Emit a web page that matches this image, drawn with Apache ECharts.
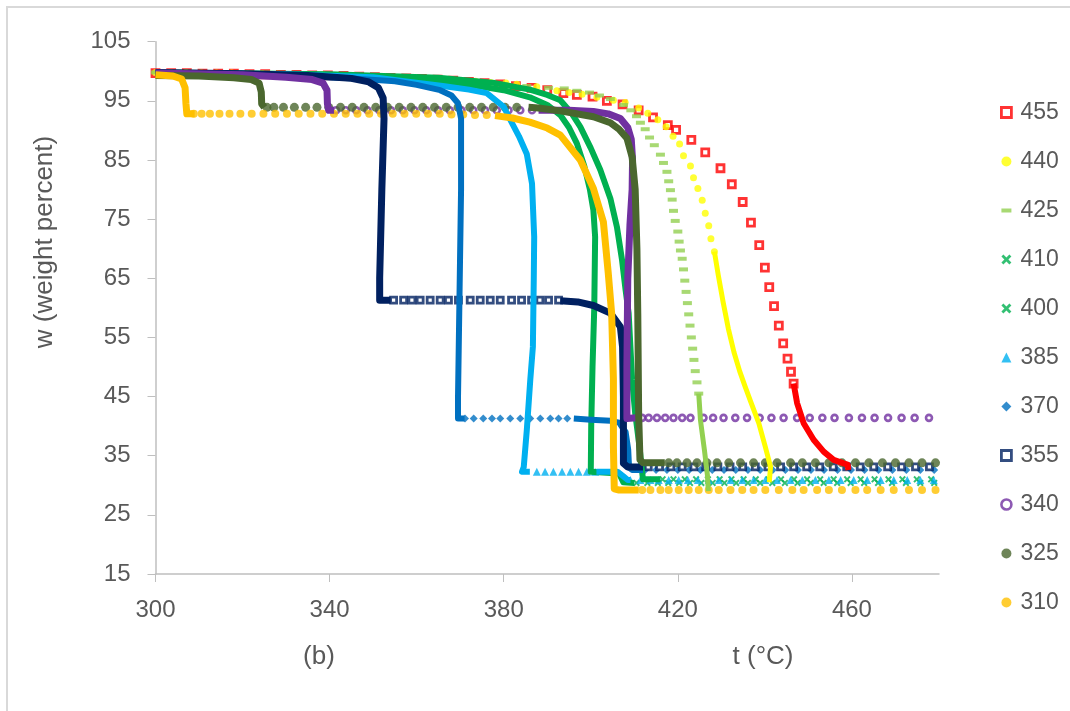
<!DOCTYPE html>
<html><head><meta charset="utf-8">
<script src="https://cdn.jsdelivr.net/npm/echarts@6/dist/echarts.min.js"></script>
<style>html,body{margin:0;padding:0;background:#fff}#c{width:1070px;height:711px}</style>
</head><body><div id="c"></div>
<script>
// ---------- data ----------
const seriesNames = ['455','440','425','410','400','385','370','355','340','325','310'];
const xTicks = [300,340,380,420,460];
const yTicks = [15,25,35,45,55,65,75,85,95,105];

// 455
const m455 = [[300,99.7],[303.6,99.7],[307.2,99.7],[310.8,99.6],[314.4,99.6],[318,99.6],[321.6,99.5],[325.2,99.5],[328.8,99.4],[332.4,99.4],[336,99.3],[339.6,99.3],[343.2,99.2],[346.8,99.1],[350.4,99.0],[354,98.9],[357.6,98.8],[361.2,98.7],[364.8,98.6],[368.4,98.4],[372,98.2],[375.6,98.0],[379.2,97.8],[382.8,97.5],[386.4,97.2],[390,96.8],[393.7,96.3],[396.8,96.0],[400.4,95.7],[403.7,95.0],[407.3,94.4],[411.0,93.4],[414.3,92.2],[417.7,90.9],[419.6,90.1],[423.1,88.4],[426.3,86.3],[429.8,83.6],[432.4,80.9],[434.9,77.9],[436.8,74.4],[438.7,70.6],[440.0,66.8],[441.0,63.5],[442.1,60.3],[443.2,57.0],[444.2,54.0],[445.2,51.4],[446.0,49.2],[446.6,47.2]];
const l455 = [[446.6,47.2],[447.4,43.9],[448.9,40.5],[451.2,37.7],[453.5,35.7],[455.8,34.3],[458.1,33.7],[459.0,33.5],[459.2,32.6]];
// 440
const m440 = [[300,99.8],[303.5,99.8],[307,99.8],[310.5,99.7],[314,99.7],[317.5,99.7],[321,99.6],[324.5,99.6],[328,99.5],[331.5,99.5],[335,99.4],[338.5,99.4],[342,99.3],[345.5,99.2],[349,99.1],[352.5,99.0],[356,98.9],[359.5,98.8],[363,98.7],[366.5,98.6],[370,98.4],[373.5,98.3],[377,98.1],[380.5,98.0],[383.0,97.8],[387.6,97.4],[392.2,96.7],[395.0,96.4],[398.0,96.1],[401.4,95.6],[405.2,95.1],[407.9,94.7],[411.0,93.8],[413.1,92.9],[415.4,91.8],[417.3,90.6],[418.9,89.0],[420.4,87.7],[421.3,85.7],[422.9,84.0],[423.6,82.0],[424.6,80.2],[425.6,78.2],[426.3,76.0],[427.1,73.9],[427.6,71.7],[428.4,69.5]];
const l440 = [[428.4,69.5],[429.3,65.5],[430.4,61.0],[431.6,56.5],[432.9,52.5],[434.2,49.3],[435.4,46.8],[436.8,44.0],[438.6,40.5],[440.1,36.5],[441.3,33.1],[441.0,30.5]];
// 425
const m425 = [[300,99.8],[304,99.8],[308,99.8],[312,99.7],[316,99.7],[320,99.6],[324,99.6],[328,99.5],[332,99.5],[336,99.4],[340,99.3],[344,99.2],[348,99.1],[352,99.0],[356,98.9],[360,98.7],[364,98.6],[368,98.4],[372,98.2],[376,98.0],[380,97.8],[385.3,97.5],[390.3,97.2],[393.9,97.1],[396.8,96.7],[399.7,96.4],[402.0,95.9],[404.5,95.3],[407.5,94.3],[409.2,93.4],[410.5,92.4],[411.4,91.3],[412.5,90.2],[413.5,88.8],[414.6,87.5],[416.0,85.9],[416.7,84.5],[417.5,83.0],[417.9,81.4],[418.3,79.9],[418.7,78.3],[419.0,76.4],[419.4,74.7],[420.0,72.9],[420.3,71.2],[420.6,69.7],[421.0,68.3],[421.3,66.5],[421.6,64.6],[421.9,62.7],[422.2,60.8],[422.5,58.9],[422.8,57.0],[423.1,55.0],[423.4,53.1],[423.7,51.2],[424.0,49.3],[424.4,47.4],[424.8,45.5]];
const l425 = [[424.8,45.5],[425.2,41.0],[426.1,36.0],[426.8,31.7],[427.0,29.0]];
// 410
const l410 = [[300,99.8],[340,99.5],[365,98.9],[378,98.0],[386,96.9],[390,96.0],[393,95.1],[395.5,93.0],[397.6,90.6],[400,87.0],[402.2,83.3],[404.5,78.5],[406,73.7],[407.2,68.0],[408,63.0],[408.7,59.1],[409.5,47.8],[410.2,42.2],[411.2,36.5],[411.6,33.5],[412,31.0],[416,31.0]];
const m410 = [[416.5,31.0],[419.0,31.0],[421.6,31.0],[424.2,31.0],[426.9,31.0],[429.6,31.0],[432.3,31.0],[435.1,31.0],[437.9,31.0],[440.8,31.0],[443.7,31.0],[446.7,31.0],[449.7,31.0],[452.7,31.0],[455.8,31.0],[458.9,31.0],[462.0,31.0],[465.2,31.0],[468.4,31.0],[471.6,31.0],[474.9,31.0],[478.2,31.0]];
// 400
const l400 = [[300,99.7],[330,99.4],[355,98.9],[370,98.0],[380,96.8],[386,95.6],[390,94.3],[393,92.6],[395,90.5],[396.8,87.8],[398.5,84.0],[399.8,80.0],[400.6,76.5],[401,72.0],[400.8,60.0],[400.4,50.0],[400.1,40.0],[400,32.3],[406.5,32.0],[407.5,30.5],[410,30.4]];
const m400 = [[410.5,30.4],[413.0,30.4],[415.4,30.4],[417.8,30.4],[420.3,30.4],[422.8,30.4],[425.4,30.4],[428.0,30.4],[430.7,30.4],[433.4,30.4],[436.1,30.4],[438.9,30.4],[441.7,30.4],[444.6,30.4],[447.5,30.4],[450.5,30.4],[453.5,30.4],[456.6,30.4],[459.7,30.4],[462.8,30.4],[466.0,30.4],[469.2,30.4],[472.4,30.4],[475.7,30.4],[478.9,30.4]];
// 385
const l385a = [[300,99.7],[330,99.5],[350,99.0],[358.5,98.2],[366,97.5],[372,96.9],[376.1,96.3],[380.0,94.0],[381.5,91.8],[383.5,89.0],[385.3,86.0],[386.5,81.0],[387,72.0],[386.9,64.7],[386.7,53.4],[386.1,47.8],[385.3,39.3],[384.6,33.1],[384.2,32.3],[386,32.3]];
const l385b = [[401.3,32.3],[406.1,32.3],[407.5,31.5],[408.5,30.9],[409.1,30.9]];
const m385 = [[387.6,32.3],[389.5,32.3],[391.4,32.3],[393.4,32.3],[395.3,32.3],[397.2,32.3],[399.1,32.3],[401.0,32.3],[409.1,30.9],[411.4,30.9],[413.7,30.9],[415.6,30.9],[417.9,30.9],[420.2,30.9],[422.3,30.9],[424.6,30.9],[427.1,30.9],[429.4,30.9],[432.1,30.9],[434.8,30.9],[437.4,30.9],[440.1,30.9],[442.8,30.9],[445.9,30.9],[448.6,30.9],[451.6,30.9],[454.7,30.9],[457.4,30.9],[460.4,30.9],[463.5,30.9],[466.6,30.9],[469.6,30.9],[472.7,30.9],[475.7,30.9],[478.8,30.9]];
// 370
const l370a = [[300,99.6],[330,99.3],[345,98.8],[355,98.3],[360,97.7],[365.4,96.8],[368,95.9],[369.5,94.6],[370.2,92.0],[370.2,80.0],[369.8,60.0],[369.5,45.0],[369.5,41.3],[371,41.3]];
const l370b = [[396.1,41.3],[400,41.1],[404.5,40.9],[406.5,40.6],[408,39.0],[408.6,36.0],[408.8,33.0],[409.5,32.6],[412,32.6]];
const m370 = [[371.1,41.3],[373.1,41.3],[375.3,41.3],[377.3,41.3],[379.2,41.3],[381.5,41.3],[383.8,41.3],[386.1,41.3],[388.4,41.3],[390.7,41.3],[392.6,41.3],[394.6,41.3],[412.5,32.6],[415.0,32.6],[417.5,32.6],[420.0,32.6],[422.6,32.6],[425.2,32.6],[427.9,32.6],[430.6,32.6],[433.3,32.6],[436.1,32.6],[438.9,32.6],[441.8,32.6],[444.7,32.6],[447.6,32.6],[450.6,32.6],[453.6,32.6],[456.7,32.6],[459.8,32.6],[462.9,32.6],[466.1,32.6],[469.3,32.6],[472.5,32.6],[475.7,32.6],[478.9,32.6]];
// 355
const l355a = [[300,99.8],[320,99.6],[335,99.3],[345,98.8],[349,98.2],[351.2,97.2],[352.3,95.5],[352.5,92.0],[352,80.0],[351.5,65.0],[351.5,61.3],[354,61.3]];
const l355b = [[393,61.2],[397,61.0],[400.6,60.4],[404.5,59.1],[406.8,56.8],[407.3,53.4],[407.5,45.0],[407.5,33.7],[408.5,33.1],[412,33.1]];
const m355 = [[354.7,61.3],[357.0,61.3],[358.9,61.3],[360.8,61.3],[363.1,61.3],[365.4,61.3],[367.3,61.3],[369.6,61.3],[372.3,61.3],[374.6,61.3],[376.9,61.3],[379.2,61.3],[381.8,61.3],[384.1,61.3],[386.4,61.3],[388.3,61.3],[390.3,61.3],[392.6,61.3],[413.2,33.1],[415.8,33.1],[418.4,33.1],[421.0,33.1],[423.7,33.1],[426.4,33.1],[429.2,33.1],[432.0,33.1],[434.9,33.1],[437.8,33.1],[440.7,33.1],[443.6,33.1],[446.6,33.1],[449.6,33.1],[452.6,33.1],[455.7,33.1],[458.8,33.1],[461.9,33.1],[465.0,33.1],[468.2,33.1],[471.4,33.1],[474.6,33.1],[477.8,33.1]];
// 340
const l340a = [[300,99.7],[320,99.4],[330,99.0],[336,98.6],[338.5,98.0],[339.4,96.8],[339.5,94.5],[339.8,93.4],[341,93.4]];
const l340b = [[388,93.4],[395,93.4],[400.6,93.2],[404,92.8],[406.8,92.0],[408.5,90.5],[409.3,88.5],[409.6,85.0],[409.5,80.0],[409,74.0],[408.5,65.0],[408.3,50.0],[408.3,41.3],[410.5,41.4]];
const m340 = [[341.5,93.4],[343.7,93.4],[346.1,93.4],[348.7,93.4],[351.4,93.4],[354.1,93.4],[356.8,93.4],[359.5,93.4],[362.2,93.4],[364.9,93.4],[367.6,93.4],[370.3,93.4],[373.0,93.4],[375.7,93.4],[378.4,93.4],[381.1,93.4],[383.8,93.4],[386.5,93.4],[411.8,41.4],[413.3,41.4],[415.2,41.4],[417.1,41.4],[419.0,41.4],[421.0,41.4],[422.9,41.4],[425.9,41.4],[428.1,41.4],[430.5,41.4],[433.2,41.4],[435.9,41.4],[438.8,41.4],[441.5,41.4],[444.3,41.4],[447.4,41.4],[450.3,41.4],[453.2,41.4],[456.0,41.4],[459.3,41.4],[462.3,41.4],[465.2,41.4],[468.3,41.4],[471.4,41.4],[474.4,41.4],[477.7,41.4]];
// 325
const l325a = [[300,99.3],[310,99.2],[318,98.9],[322,98.6],[323.8,98.0],[324.3,96.5],[324.4,94.5],[325,93.9]];
const l325b = [[385.7,93.9],[388,93.8],[393,93.3],[400.6,92.3],[404.5,91.3],[406.5,90.2],[408.3,88.7],[409.5,85.5],[410.2,80.0],[410.6,70.0],[410.8,59.0],[411.0,42.0],[411.3,34.3],[412,33.8],[417,33.8]];
const m325 = [[325.6,93.9],[327.2,93.9],[329.4,93.9],[331.9,93.9],[334.5,93.9],[337.1,93.9],[339.8,93.9],[342.5,93.9],[345.2,93.9],[347.9,93.9],[350.6,93.9],[353.3,93.9],[356.0,93.9],[358.7,93.9],[361.4,93.9],[364.1,93.9],[366.8,93.9],[369.5,93.9],[372.2,93.9],[374.9,93.9],[377.6,93.9],[380.3,93.9],[383.0,93.9],[417.9,33.8],[419.8,33.8],[422.1,33.8],[424.4,33.8],[426.7,33.8],[429.0,33.8],[431.7,33.8],[434.4,33.8],[437.4,33.8],[440.1,33.8],[442.8,33.8],[445.9,33.8],[448.6,33.8],[451.6,33.8],[454.7,33.8],[457.7,33.8],[460.8,33.8],[463.9,33.8],[467.0,33.8],[470.0,33.8],[473.1,33.8],[476.1,33.8],[479.2,33.8]];
// 310
const l310a = [[300,99.4],[304,99.2],[306,98.7],[306.8,97.2],[307,94.5],[307.2,92.8],[309,92.8]];
const l310b = [[378,92.5],[382,92.1],[386,91.4],[390,90.4],[393,89.2],[397.6,85.0],[400.6,80.2],[402.9,74.5],[404.0,66.0],[404.8,59.0],[405.2,48.0],[405.2,36.5],[405.4,29.4],[406.5,29.2],[411,29.2]];
const m310 = [[308.8,92.8],[310.6,92.8],[312.5,92.8],[314.7,92.8],[317.0,92.8],[319.5,92.8],[322.1,92.8],[324.8,92.8],[327.5,92.8],[330.2,92.8],[332.9,92.8],[335.6,92.8],[338.3,92.8],[341.0,92.8],[343.7,92.8],[346.4,92.8],[349.1,92.8],[351.8,92.8],[354.5,92.8],[357.2,92.8],[359.9,92.8],[362.6,92.8],[365.3,92.8],[368.0,92.7],[370.7,92.7],[373.4,92.6],[376.1,92.6],[411.8,29.2],[413.7,29.2],[416.0,29.2],[417.9,29.2],[420.2,29.2],[422.5,29.2],[424.8,29.2],[427.1,29.2],[429.4,29.2],[432.1,29.2],[434.8,29.2],[437.4,29.2],[440.1,29.2],[443.2,29.2],[446.3,29.2],[448.9,29.2],[452.0,29.2],[454.7,29.2],[457.7,29.2],[460.8,29.2],[463.5,29.2],[466.6,29.2],[469.6,29.2],[473.1,29.2],[476.1,29.2],[479.2,29.2]];

// ---------- styles ----------
const C = {'455':'#FF0000','440':'#FFFF00','425':'#92D050','410':'#00B050','400':'#00B050','385':'#00B0F0','370':'#0070C0','355':'#002060','340':'#7030A0','325':'#4A672E','310':'#FFC000'};
const XSYM = 'path://M0,2 L2,0 L5,3 L8,0 L10,2 L7,5 L10,8 L8,10 L5,7 L2,10 L0,8 L3,5 Z';
const DASH = 'path://M0,0 L10,0 L10,4 L0,4 Z';
const MK = {
  '455': {symbol:'rect', symbolSize:7, itemStyle:{color:'#fff', borderColor:C['455'], borderWidth:2.8}},
  '440': {symbol:'circle', symbolSize:7, itemStyle:{color:C['440']}},
  '425': {symbol:DASH, symbolSize:[9,4], itemStyle:{color:C['425']}},
  '410': {symbol:XSYM, symbolSize:7, itemStyle:{color:C['410']}},
  '400': {symbol:XSYM, symbolSize:7, itemStyle:{color:C['400']}},
  '385': {symbol:'triangle', symbolSize:8, itemStyle:{color:C['385']}},
  '370': {symbol:'diamond', symbolSize:8, itemStyle:{color:C['370']}},
  '355': {symbol:'rect', symbolSize:6, itemStyle:{color:'#fff', borderColor:C['355'], borderWidth:2.8}},
  '340': {symbol:'circle', symbolSize:6, itemStyle:{color:'#fff', borderColor:C['340'], borderWidth:2.6}},
  '325': {symbol:'circle', symbolSize:9, itemStyle:{color:C['325']}},
  '310': {symbol:'circle', symbolSize:8, itemStyle:{color:C['310']}}
};
const LINES = {'455':[l455],'440':[l440],'425':[l425],'410':[l410],'400':[l400],'385':[l385a,l385b],'370':[l370a,l370b],'355':[l355a,l355b],'340':[l340a,l340b],'325':[l325a,l325b],'310':[l310a,l310b]};
const MARKS = {'455':m455,'440':m440,'425':m425,'410':m410,'400':m400,'385':m385,'370':m370,'355':m355,'340':m340,'325':m325,'310':m310};
const LW = {'455':6,'440':5,'425':5,'410':6,'400':6,'385':6,'370':6,'355':7,'340':7,'325':7,'310':7};

const series = [];
seriesNames.forEach(n => {
  series.push(Object.assign({type:'scatter', name:n, data:MARKS[n]}, MK[n]));
  LINES[n].forEach(d => series.push({type:'line', name:n, data:d, showSymbol:false, symbol:'none',
     lineStyle:{color:C[n], width:LW[n], cap:'butt', join:'round'}, itemStyle:{color:C[n]}}));
});

const FONT = '"Liberation Sans Narrow", "Liberation Sans", Arial, sans-serif';
const chart = echarts.init(document.getElementById('c'), null, {renderer:'canvas'});
chart.setOption({
  animation:false,
  backgroundColor:'#fff',
  grid:{left:155.5, right:131, top:41.7, bottom:137},
  xAxis:{type:'value', min:300, max:480,
    axisLine:{lineStyle:{color:'#BFBFBF', width:1.5}},
    axisTick:{show:true, length:8, customValues:xTicks, lineStyle:{color:'#BFBFBF'}},
    axisLabel:{customValues:xTicks, margin:24, color:'#595959', fontSize:24, fontFamily:FONT},
    splitLine:{show:false}},
  yAxis:{type:'value', min:15, max:105,
    axisLine:{show:true, lineStyle:{color:'#BFBFBF', width:1.5}},
    axisTick:{show:true, length:8, customValues:yTicks, lineStyle:{color:'#BFBFBF'}},
    axisLabel:{customValues:yTicks, margin:25, color:'#595959', fontSize:24, fontFamily:FONT},
    splitLine:{show:false}},
  legend:{orient:'vertical', left:1000, top:100, padding:0, itemGap:24, itemWidth:10, itemHeight:10, selectedMode:false,
    textStyle:{color:'#595959', fontSize:23, lineHeight:25, fontFamily:FONT, padding:[0,0,0,4]},
    data: seriesNames.map(n => ({name:n, icon: (MK[n].symbol), itemStyle: MK[n].itemStyle}))},
  graphic:[
    {type:'rect', shape:{x:7, y:7, width:1100, height:720}, style:{fill:null, stroke:'#D9D9D9', lineWidth:2}, silent:true},
    {type:'text', x:45, y:242, rotation:Math.PI/2, style:{text:'w (weight percent)', font:'26px '+FONT, fill:'#595959', align:'center', verticalAlign:'middle'}},
    {type:'text', x:319, y:657, style:{text:'(b)', font:'26px '+FONT, fill:'#595959', align:'center', verticalAlign:'middle'}},
    {type:'text', x:763, y:657, style:{text:'t (°C)', font:'26px '+FONT, fill:'#595959', align:'center', verticalAlign:'middle'}}
  ],
  series: series
});
</script></body></html>
